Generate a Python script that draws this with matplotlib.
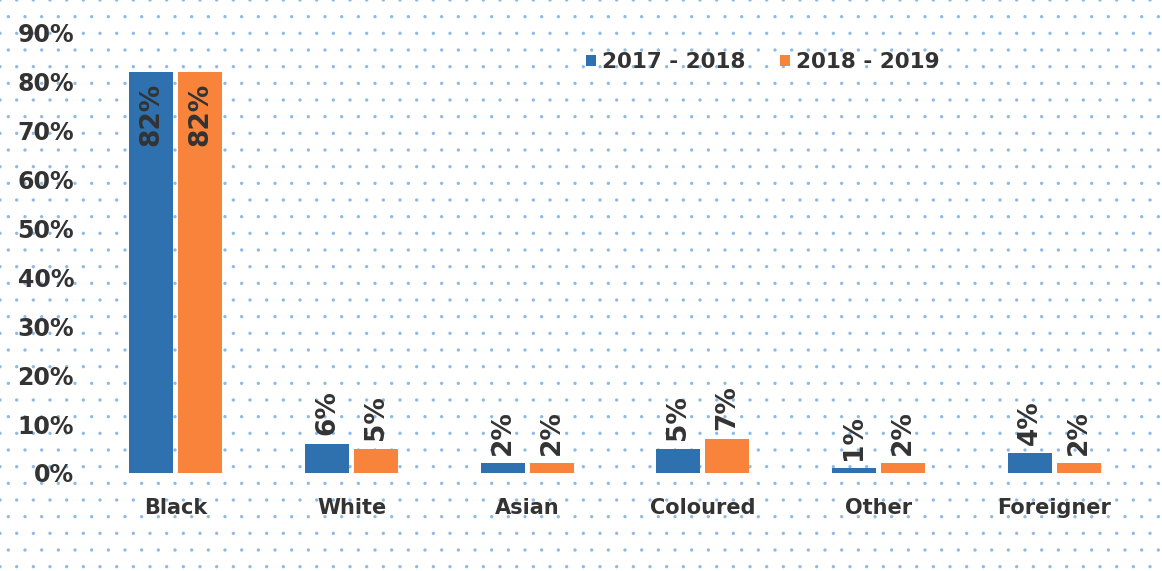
import numpy as np
import matplotlib.pyplot as plt
from matplotlib.patches import Rectangle

# data
groups = ['Black', 'White', 'Asian', 'Coloured', 'Other', 'Foreigner']
share_2017 = [82, 6, 2, 5, 1, 4]
share_2018 = [82, 5, 2, 7, 2, 2]
series_names = ['2017 - 2018', '2018 - 2019']
y_ticks = [0, 10, 20, 30, 40, 50, 60, 70, 80, 90]

blue = '#2F70AF'
orange = '#F7843A'
txt = '#333333'

plt.rcParams['font.family'] = ['DejaVu Sans']
plt.rcParams['font.weight'] = 'bold'
plt.rcParams['hatch.linewidth'] = 0.0

fig = plt.figure(figsize=(11.62, 5.71), dpi=100)

# dotted paper background
bg = Rectangle((0, 0), 1, 1, transform=fig.transFigure, facecolor='white',
               edgecolor='#8DBBE6', hatch='.', linewidth=0, zorder=-10)
fig.patches.append(bg)

ax = fig.add_axes([88 / 1162, 98 / 571, (1142 - 88) / 1162, (473 - 33) / 571])
ax.set_facecolor('none')

x = np.arange(len(groups))
w = 0.25
off = 0.14
b1 = ax.bar(x - off, share_2017, w, color=blue, label=series_names[0])
b2 = ax.bar(x + off, share_2018, w, color=orange, label=series_names[1])

for bars, vals in ((b1, share_2017), (b2, share_2018)):
    for rect, v in zip(bars, vals):
        cx = rect.get_x() + rect.get_width() / 2
        if v > 50:
            ax.annotate(f'{v}%', (cx, v), xytext=(0, -8), textcoords='offset points',
                        rotation=90, ha='center', va='top', fontsize=19,
                        fontweight='bold', color=txt)
        else:
            ax.annotate(f'{v}%', (cx, v), xytext=(0, 6), textcoords='offset points',
                        rotation=90, ha='center', va='bottom', fontsize=19,
                        fontweight='bold', color=txt)

ax.set_xlim(-0.5, len(groups) - 0.5)
ax.set_ylim(0, 90)
ax.set_yticks(y_ticks)
ax.set_yticklabels([f'{t}%' for t in y_ticks], fontsize=17, fontweight='bold', color=txt)
ax.set_xticks(x)
ax.set_xticklabels(groups, fontsize=15, fontweight='bold', color=txt)
ax.tick_params(axis='both', length=0)
ax.tick_params(axis='y', pad=10)
ax.tick_params(axis='x', pad=18)
for s in ax.spines.values():
    s.set_visible(False)

leg = ax.legend(loc='upper left', bbox_to_anchor=(0.454, 1.0), ncol=2, frameon=False,
                fontsize=15.5, handlelength=0.45, handleheight=0.45, handletextpad=0.3,
                columnspacing=1.6)
for t in leg.get_texts():
    t.set_color(txt)
    t.set_fontweight('bold')

fig.savefig('out.png', dpi=100)
